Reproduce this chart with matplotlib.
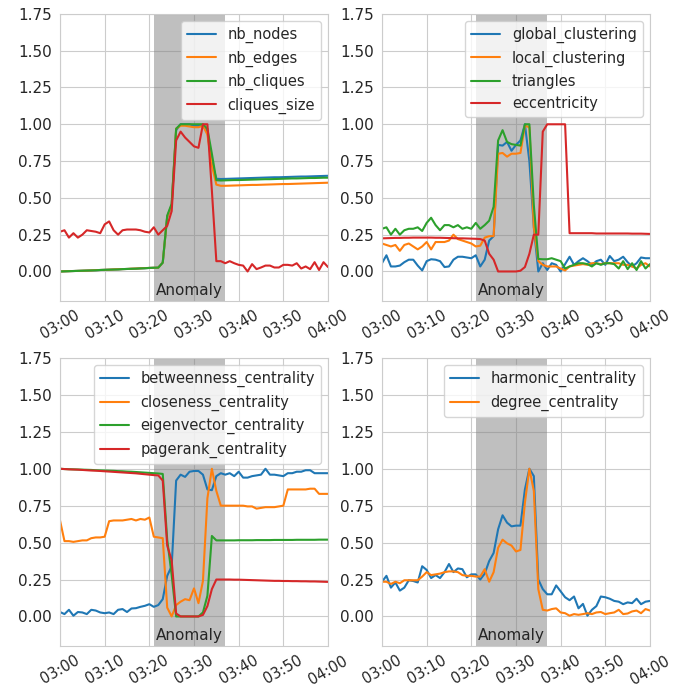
import matplotlib
matplotlib.use("Agg")
import matplotlib.pyplot as plt
import matplotlib.dates as mdates
import numpy as np
import pandas as pd
import seaborn as sns

# one sample per minute, 03:00 .. 04:00
times = pd.date_range("2020-01-01 03:00", "2020-01-01 04:00", freq="1min")
anomaly_start = pd.Timestamp("2020-01-01 03:21")
anomaly_end = pd.Timestamp("2020-01-01 03:37")

nb_nodes = [0.000, 0.001, 0.002, 0.003, 0.004, 0.005, 0.006, 0.007, 0.008, 0.010, 0.011, 0.012,
            0.013, 0.014, 0.016, 0.017, 0.018, 0.019, 0.021, 0.022, 0.024, 0.025, 0.026,
            0.06, 0.37, 0.45, 0.96, 1.00, 1.00, 1.00, 0.99, 0.99, 0.99, 0.95, 0.74, 0.63,
            0.628, 0.629, 0.630, 0.631, 0.632, 0.633, 0.634, 0.635, 0.636, 0.637, 0.638, 0.639,
            0.640, 0.640, 0.641, 0.642, 0.643, 0.644, 0.645, 0.645, 0.646, 0.647, 0.648, 0.649, 0.650]
nb_edges = [0.000, 0.001, 0.002, 0.003, 0.004, 0.005, 0.006, 0.007, 0.009, 0.010, 0.011, 0.012,
            0.014, 0.015, 0.016, 0.017, 0.019, 0.020, 0.021, 0.023, 0.024, 0.025, 0.026,
            0.06, 0.37, 0.45, 0.97, 0.99, 0.99, 0.985, 0.98, 0.98, 0.99, 0.93, 0.72, 0.59,
            0.582, 0.582, 0.583, 0.584, 0.585, 0.586, 0.587, 0.588, 0.588, 0.589, 0.590, 0.591,
            0.592, 0.593, 0.594, 0.594, 0.595, 0.596, 0.597, 0.598, 0.599, 0.600, 0.601, 0.602, 0.603]
nb_cliques = [0.000, 0.001, 0.002, 0.003, 0.004, 0.005, 0.006, 0.007, 0.008, 0.010, 0.011, 0.012,
              0.013, 0.014, 0.016, 0.017, 0.018, 0.019, 0.021, 0.022, 0.024, 0.025, 0.026,
              0.06, 0.38, 0.46, 0.97, 1.00, 1.00, 1.00, 1.00, 1.00, 1.00, 0.97, 0.80, 0.62,
              0.618, 0.619, 0.620, 0.621, 0.621, 0.622, 0.623, 0.624, 0.625, 0.626, 0.627, 0.627,
              0.628, 0.629, 0.630, 0.631, 0.632, 0.632, 0.633, 0.634, 0.635, 0.635, 0.636, 0.637, 0.637]
cliques_size = [0.27, 0.28, 0.23, 0.26, 0.23, 0.25, 0.28, 0.275, 0.27, 0.26, 0.32, 0.34, 0.28,
                0.25, 0.28, 0.285, 0.285, 0.285, 0.28, 0.27, 0.265, 0.30, 0.25, 0.28, 0.31, 0.41,
                0.89, 0.95, 0.91, 0.88, 0.85, 0.84, 1.0, 1.0, 0.55, 0.07, 0.07, 0.056, 0.07, 0.056,
                0.045, 0.04, 0.0, 0.05, 0.016, 0.027, 0.04, 0.04, 0.027, 0.027, 0.045, 0.045, 0.04,
                0.056, 0.02, 0.034, 0.016, 0.063, 0.01, 0.063, 0.03]

global_clustering = [0.056, 0.11, 0.034, 0.034, 0.04, 0.063, 0.08, 0.08, 0.04, 0.007, 0.07, 0.083,
                     0.08, 0.07, 0.03, 0.034, 0.08, 0.10, 0.10, 0.095, 0.09, 0.11, 0.034,
                     0.08, 0.21, 0.24, 0.86, 0.855, 0.88, 0.82, 0.86, 0.89, 1.0, 0.75, 0.30, 0.0,
                     0.056, 0.01, 0.056, 0.045, 0.0, 0.05, 0.10, 0.045, 0.07, 0.09, 0.07, 0.045,
                     0.07, 0.08, 0.045, 0.105, 0.07, 0.08, 0.10, 0.063, 0.034, 0.056, 0.095, 0.09, 0.09]
local_clustering = [0.19, 0.18, 0.17, 0.18, 0.14, 0.18, 0.19, 0.17, 0.15, 0.17, 0.20, 0.15,
                    0.20, 0.20, 0.20, 0.21, 0.25, 0.22, 0.21, 0.20, 0.19, 0.17, 0.175,
                    0.23, 0.24, 0.24, 0.80, 0.805, 0.78, 0.80, 0.80, 0.805, 0.99, 0.98, 0.30, 0.07,
                    0.045, 0.034, 0.034, 0.034, 0.02, 0.007, 0.034, 0.04, 0.045, 0.05, 0.045, 0.056,
                    0.056, 0.05, 0.056, 0.056, 0.056, 0.056, 0.045, 0.045, 0.034, 0.02, 0.045, 0.056, 0.034]
triangles = [0.29, 0.30, 0.25, 0.29, 0.25, 0.28, 0.29, 0.29, 0.30, 0.275, 0.33, 0.365,
             0.315, 0.28, 0.315, 0.315, 0.30, 0.315, 0.29, 0.30, 0.29, 0.33, 0.29,
             0.315, 0.345, 0.44, 0.89, 0.96, 0.88, 0.865, 0.86, 0.855, 1.0, 1.0, 0.45, 0.085,
             0.083, 0.083, 0.09, 0.08, 0.07, 0.02, 0.034, 0.045, 0.056, 0.056, 0.05, 0.034,
             0.056, 0.045, 0.056, 0.056, 0.05, 0.02, 0.07, 0.016, 0.056, 0.01, 0.07, 0.02, 0.05]
eccentricity = [0.225, 0.226, 0.227, 0.228, 0.228, 0.229, 0.229, 0.23, 0.23, 0.23, 0.23, 0.23,
                0.229, 0.229, 0.228, 0.227, 0.226, 0.225, 0.225, 0.224, 0.223, 0.222, 0.22,
                0.21, 0.12, 0.08, 0.0, 0.0, 0.0, 0.0, 0.0, 0.005, 0.03, 0.12, 0.25, 0.25,
                0.95, 1.0, 1.0, 1.0, 1.0, 1.0, 0.26, 0.26, 0.26, 0.26, 0.26, 0.26,
                0.258, 0.258, 0.258, 0.258, 0.258, 0.258, 0.258, 0.258, 0.257, 0.257, 0.257, 0.256, 0.255]

betweenness = [0.03, 0.016, 0.045, 0.005, 0.03, 0.027, 0.016, 0.045, 0.04, 0.027, 0.022, 0.027,
               0.016, 0.045, 0.05, 0.03, 0.054, 0.056, 0.065, 0.072, 0.083, 0.065, 0.077,
               0.117, 0.275, 0.34, 0.92, 0.96, 0.945, 0.98, 0.985, 0.985, 0.96, 0.86, 0.855, 0.95,
               0.97, 0.96, 0.97, 0.95, 0.98, 0.94, 0.94, 0.95, 0.955, 0.96, 1.0, 0.96, 0.96,
               0.955, 0.95, 0.97, 0.97, 0.98, 0.98, 0.99, 0.99, 0.97, 0.97, 0.97, 0.97]
closeness = [0.65, 0.51, 0.51, 0.505, 0.51, 0.515, 0.515, 0.53, 0.535, 0.535, 0.54, 0.645,
             0.65, 0.65, 0.65, 0.655, 0.66, 0.65, 0.66, 0.655, 0.67, 0.54, 0.535,
             0.53, 0.06, 0.0, 0.077, 0.10, 0.117, 0.11, 0.19, 0.09, 0.24, 0.80, 1.0, 0.85,
             0.75, 0.75, 0.75, 0.75, 0.75, 0.75, 0.745, 0.745, 0.73, 0.735, 0.74, 0.74, 0.74,
             0.745, 0.75, 0.86, 0.86, 0.86, 0.86, 0.86, 0.865, 0.865, 0.83, 0.83, 0.83]
eigenvector = [1.0, 0.998, 0.997, 0.996, 0.995, 0.994, 0.993, 0.992, 0.99, 0.989, 0.988, 0.987,
               0.986, 0.984, 0.983, 0.981, 0.98, 0.978, 0.976, 0.974, 0.972, 0.97, 0.968,
               0.965, 0.52, 0.28, 0.0, 0.0, 0.0, 0.0, 0.0, 0.0, 0.027, 0.14, 0.545, 0.515,
               0.515, 0.515, 0.515, 0.515, 0.516, 0.516, 0.516, 0.516, 0.517, 0.517, 0.517, 0.517,
               0.518, 0.518, 0.518, 0.518, 0.518, 0.519, 0.519, 0.519, 0.519, 0.519, 0.52, 0.52, 0.52]
pagerank = [1.0, 0.998, 0.996, 0.995, 0.994, 0.992, 0.99, 0.988, 0.987, 0.985, 0.983, 0.981,
            0.979, 0.977, 0.975, 0.973, 0.971, 0.969, 0.966, 0.963, 0.96, 0.957, 0.955,
            0.92, 0.48, 0.38, 0.02, 0.0, 0.0, 0.0, 0.0, 0.0, 0.01, 0.07, 0.185, 0.25,
            0.25, 0.25, 0.25, 0.249, 0.249, 0.248, 0.247, 0.246, 0.245, 0.244, 0.243, 0.242,
            0.241, 0.241, 0.24, 0.24, 0.239, 0.239, 0.238, 0.238, 0.237, 0.237, 0.236, 0.235, 0.234]

harmonic = [0.235, 0.275, 0.195, 0.23, 0.175, 0.195, 0.245, 0.24, 0.23, 0.34, 0.315, 0.26,
            0.28, 0.26, 0.30, 0.355, 0.30, 0.325, 0.32, 0.265, 0.285, 0.285, 0.25,
            0.29, 0.375, 0.43, 0.59, 0.685, 0.635, 0.61, 0.615, 0.615, 0.86, 1.0, 0.95, 0.25,
            0.185, 0.15, 0.15, 0.21, 0.17, 0.13, 0.11, 0.135, 0.055, 0.085, 0.005, 0.045,
            0.07, 0.135, 0.13, 0.12, 0.105, 0.10, 0.083, 0.095, 0.09, 0.12, 0.083, 0.10, 0.105]
degree = [0.235, 0.235, 0.22, 0.235, 0.225, 0.245, 0.245, 0.245, 0.245, 0.27, 0.30, 0.28,
          0.285, 0.29, 0.30, 0.305, 0.305, 0.30, 0.28, 0.275, 0.275, 0.27, 0.27,
          0.32, 0.235, 0.30, 0.465, 0.52, 0.495, 0.48, 0.44, 0.45, 0.77, 1.0, 0.85, 0.185,
          0.045, 0.04, 0.05, 0.055, 0.027, 0.022, 0.005, 0.016, 0.011, 0.016, 0.022, 0.016,
          0.027, 0.03, 0.016, 0.022, 0.027, 0.045, 0.016, 0.02, 0.034, 0.04, 0.022, 0.05, 0.04]

panels = [
    {"nb_nodes": nb_nodes, "nb_edges": nb_edges, "nb_cliques": nb_cliques,
     "cliques_size": cliques_size},
    {"global_clustering": global_clustering, "local_clustering": local_clustering,
     "triangles": triangles, "eccentricity": eccentricity},
    {"betweenness_centrality": betweenness, "closeness_centrality": closeness,
     "eigenvector_centrality": eigenvector, "pagerank_centrality": pagerank},
    {"harmonic_centrality": harmonic, "degree_centrality": degree},
]

sns.set_style("whitegrid")
colors = ["#1f77b4", "#ff7f0e", "#2ca02c", "#d62728"]

fig = plt.figure(figsize=(6.93, 6.87), dpi=100)
# axes boxes in figure fractions (left, bottom, width, height)
boxes = [
    [0.0866, 0.562, 0.3867, 0.4178],
    [0.5512, 0.562, 0.3867, 0.4178],
    [0.0866, 0.0597, 0.3867, 0.4192],
    [0.5512, 0.0597, 0.3867, 0.4192],
]

for box, series in zip(boxes, panels):
    ax = fig.add_axes(box)
    for (name, vals), c in zip(series.items(), colors):
        ax.plot(times, vals, color=c, lw=1.5, label=name)
    ax.axvspan(anomaly_start, anomaly_end, color="gray", alpha=0.5, lw=0)
    mid = anomaly_start + (anomaly_end - anomaly_start) / 2
    ax.text(mid, -0.13, "Anomaly", ha="center", va="center", fontsize=11, color="0.15")
    ax.set_xlim(times[0], times[-1])
    ax.set_ylim(-0.2, 1.75)
    ax.set_yticks(np.arange(0, 1.76, 0.25))
    ax.xaxis.set_major_locator(mdates.MinuteLocator(byminute=range(0, 60, 10)))
    ax.xaxis.set_major_formatter(mdates.DateFormatter("%H:%M"))
    ax.tick_params(axis="y", labelsize=11, length=0, pad=6)
    ax.tick_params(axis="x", labelsize=10.5, length=0, pad=5)
    for lbl in ax.get_xticklabels():
        lbl.set_rotation(30)
        lbl.set_ha("center")
    ax.legend(loc="upper right", fontsize=10.5)

fig.savefig("out.png", dpi=100)
